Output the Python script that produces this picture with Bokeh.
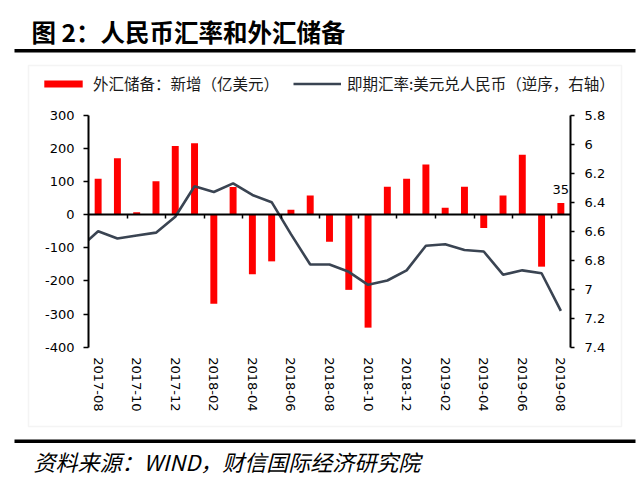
import math
from bokeh.plotting import figure
from bokeh.models import (Range1d, LinearAxis, FixedTicker, Label,
                          BoxAnnotation, Legend, LegendItem, ColumnDataSource)
from bokeh.embed import file_html
from bokeh.resources import INLINE

# ---------------- data ----------------
months = ["2017-08", "2017-09", "2017-10", "2017-11", "2017-12",
          "2018-01", "2018-02", "2018-03", "2018-04", "2018-05", "2018-06",
          "2018-07", "2018-08", "2018-09", "2018-10", "2018-11", "2018-12",
          "2019-01", "2019-02", "2019-03", "2019-04", "2019-05", "2019-06",
          "2019-07", "2019-08"]
reserve_change = [108, 170, 7, 101, 207, 215, -269, 83, -180, -141, 15,
                  58, -82, -227, -341, 84, 108, 151, 21, 84, -40, 58, 181,
                  -157, 35]
rate_months = ["2017-07"] + months
usdcny = [6.72, 6.60, 6.65, 6.63, 6.61, 6.50, 6.29, 6.33, 6.27, 6.35, 6.40,
          6.62, 6.83, 6.83, 6.88, 6.97, 6.94, 6.87, 6.70, 6.69, 6.73, 6.74,
          6.90, 6.87, 6.89, 7.15]
left_ticks = [-400, -300, -200, -100, 0, 100, 200, 300]
left_tick_labels = ["-400", "-300", "-200", "-100", "0", "100", "200", "300"]
right_ticks = [5.8, 6.0, 6.2, 6.4, 6.6, 6.8, 7.0, 7.2, 7.4]
right_tick_labels = ["5.8", "6", "6.2", "6.4", "6.6", "6.8", "7", "7.2", "7.4"]
x_tick_labels = months[::2]

title_text = "图 2：人民币汇率和外汇储备"
source_text = "资料来源：WIND，财信国际经济研究院"
bar_legend = "外汇储备：新增（亿美元）"
line_legend = "即期汇率:美元兑人民币（逆序，右轴）"

CJK = "Noto Sans CJK SC"
NUM = "DejaVu Sans"

# ---------------- geometry (canvas pixels) ----------------
W, H = 644, 477
FL, FR, FT, FB = 88.0, 570.0, 114.7, 346.7      # plotting area of the chart
n = len(months)
x_lo, x_hi = -0.5, n - 0.5
y_lo, y_hi = left_ticks[0], left_ticks[-1]
r_top, r_bot = right_ticks[0], right_ticks[-1]

xpp = (FR - FL) / (x_hi - x_lo)
ypp = (FB - FT) / (y_hi - y_lo)
rpp = (FB - FT) / (r_bot - r_top)
x_range = Range1d(x_lo - FL / xpp, x_hi + (W - FR) / xpp)
y_range = Range1d(y_lo - (H - FB) / ypp, y_hi + FT / ypp)
r_range = Range1d(r_bot + (H - FB) / rpp, r_top - FT / rpp)

p = figure(width=W, height=H, output_backend="svg", toolbar_location=None,
           x_range=x_range, y_range=y_range,
           x_axis_location=None, y_axis_location=None, min_border=0,
           background_fill_color="white", border_fill_color="white")
p.outline_line_color = None
p.grid.visible = False
p.extra_y_ranges = {"fx": r_range}

bar_x = list(range(n))
line_x = [i - 1 for i in range(len(rate_months))]
bar_src = ColumnDataSource(dict(x=bar_x, v=reserve_change))
line_src = ColumnDataSource(dict(x=line_x, r=usdcny))

bars = p.vbar(x="x", top="v", bottom=0, width=0.36, source=bar_src,
              fill_color="#FF0000", line_color=None)
line = p.line(x="x", y="r", source=line_src, y_range_name="fx",
              line_color="#3A4452", line_width=2.6)
# hide the part of the line that lies left of the value axis
p.add_layout(BoxAnnotation(left=29, left_units="canvas", right=x_lo,
                           top=y_hi, bottom=y_lo, fill_color="white",
                           fill_alpha=1, line_color=None, level="glyph"))


def style_axis(ax, tick_out, standoff):
    ax.axis_line_color = "black"
    ax.axis_line_width = 2
    ax.major_tick_line_color = "black"
    ax.major_tick_line_width = 1.5
    ax.major_tick_out = tick_out
    ax.major_tick_in = 0
    ax.minor_tick_line_color = None
    ax.major_label_text_font = NUM
    ax.major_label_text_font_size = "13px"
    ax.major_label_text_color = "black"
    ax.major_label_standoff = standoff


# left value axis
la = LinearAxis(fixed_location=x_lo, bounds=(y_lo, y_hi),
                ticker=FixedTicker(ticks=left_ticks),
                major_label_overrides={t: s for t, s in zip(left_ticks, left_tick_labels)})
style_axis(la, 5, 9)
p.add_layout(la, "left")

# right rate axis (inverted)
ra = LinearAxis(y_range_name="fx", fixed_location=x_hi, bounds=(r_top, r_bot),
                ticker=FixedTicker(ticks=right_ticks),
                major_label_overrides={t: s for t, s in zip(right_ticks, right_tick_labels)})
style_axis(ra, 4, 10)
p.add_layout(ra, "right")

# category axis along the zero line (ticks between every second month)
tick_x = [i + 0.5 for i in range(1, n - 1, 2)]
za = LinearAxis(fixed_location=0, bounds=(x_lo, x_hi),
                ticker=FixedTicker(ticks=tick_x),
                major_label_overrides={t: "" for t in tick_x})
style_axis(za, 4, 0)
p.add_layout(za, "below")

# month labels below the plotting area
xa = LinearAxis(fixed_location=y_lo, ticker=FixedTicker(ticks=bar_x[::2]),
                major_label_overrides={i: m for i, m in zip(bar_x[::2], x_tick_labels)})
style_axis(xa, 0, 10)
xa.axis_line_color = None
xa.major_tick_line_color = None
xa.major_label_orientation = -math.pi / 2
p.add_layout(xa, "below")

# data label on the last bar
p.add_layout(Label(x=bar_x[-1], y=reserve_change[-1], text=str(reserve_change[-1]),
                   text_align="center", text_baseline="bottom", y_offset=9,
                   text_font=NUM, text_font_size="13px", text_color="black"))

# legend
legend = Legend(items=[LegendItem(label=bar_legend, renderers=[bars]),
                       LegendItem(label=line_legend, renderers=[line])],
                orientation="horizontal", location=(39, H - 94),
                glyph_width=48, glyph_height=9, label_standoff=6, spacing=14,
                padding=0, margin=0, border_line_color=None,
                background_fill_alpha=0, label_text_font=CJK,
                label_text_font_size="15.5px", label_text_color="#1a1a1a",
                label_height=16)
p.add_layout(legend, "center")


# chart box, rules, title and source
def canvas_box(l, r, t, b, **kw):
    return BoxAnnotation(left=l, right=r, top=t, bottom=b,
                         left_units="canvas", right_units="canvas",
                         top_units="canvas", bottom_units="canvas", **kw)


p.add_layout(canvas_box(28, 621, 65, 426, fill_alpha=0,
                        line_color="#D9D9D9", line_width=1.5))
p.add_layout(canvas_box(14, 635, 48.5, 52, fill_color="black", fill_alpha=1,
                        line_color=None))
p.add_layout(canvas_box(14, 635, 439, 442.5, fill_color="black", fill_alpha=1,
                        line_color=None))
p.add_layout(Label(x=31, y=31, x_units="canvas", y_units="canvas",
                   text=title_text, text_font=CJK, text_font_size="24.5px",
                   text_font_style="bold", text_color="black",
                   text_baseline="middle"))
p.add_layout(Label(x=33, y=460, x_units="canvas", y_units="canvas",
                   text=source_text, text_font=CJK, text_font_size="22px",
                   text_font_style="italic", text_color="black",
                   text_baseline="middle"))

open("out.html", "w").write(file_html(p, INLINE))
